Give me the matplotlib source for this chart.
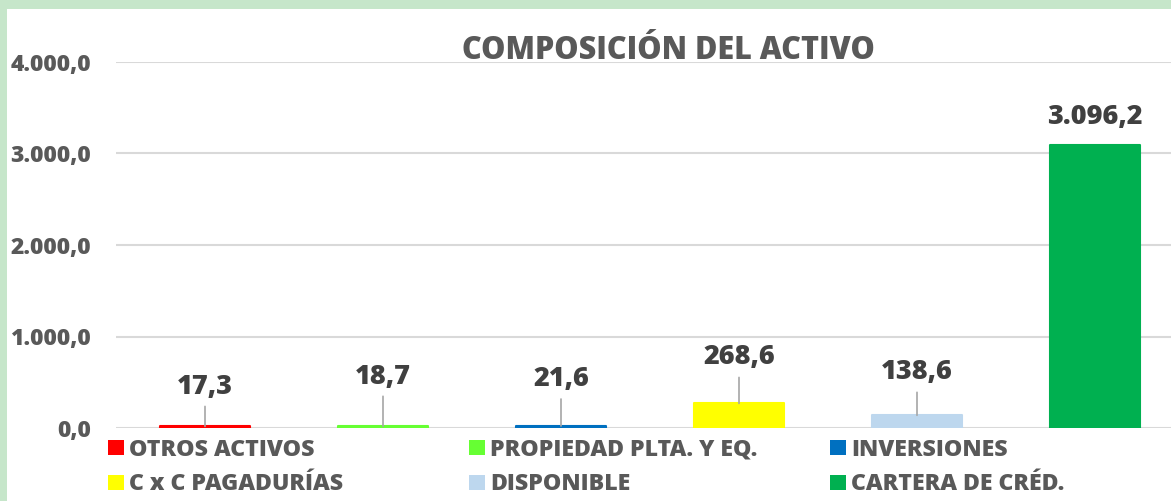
import matplotlib
matplotlib.use('Agg')
import matplotlib.pyplot as plt
from matplotlib.patches import Rectangle
from matplotlib.ticker import FuncFormatter

# chart data
categories = ['OTROS ACTIVOS', 'PROPIEDAD PLTA. Y EQ.', 'INVERSIONES',
              'C x C PAGADURÍAS', 'DISPONIBLE', 'CARTERA DE CRÉD.']
values = [17.3, 18.7, 21.6, 268.6, 138.6, 3096.2]
colors = ['#FF0000', '#66FF33', '#0070C0', '#FFFF00', '#BDD7EE', '#00B050']
y_ticks = [0, 1000, 2000, 3000, 4000]

# label placement above the bar top (pixels): text baseline and leader line top
label_dy = [32, 42, 40, 39, 36, 21]
leader_dy = [20, 30, 27, 26, 23, None]

W, H = 1171, 501
TXT = '#595959'
LBL = '#404040'
WT = 'extra bold'


def fmt_es(v, pos=None):
    s = f"{v:,.1f}"
    return s.replace(',', '_').replace('.', ',').replace('_', '.')


def fx(px):
    return px / W


def fy(py):
    return 1 - py / H


fig = plt.figure(figsize=(W / 100, H / 100), dpi=100)
fig.patch.set_facecolor('#C6E6CA')
fig.add_artist(Rectangle((fx(7), 0), 1 - fx(7), fy(9), facecolor='white',
                         edgecolor='none', zorder=0))

ax = fig.add_axes([fx(116), fy(428), fx(1184) - fx(116), fy(62) - fy(428)])
ax.set_facecolor('none')
x = list(range(len(values)))
ax.bar(x, values, width=0.505, color=colors, edgecolor=colors, linewidth=1.5,
       joinstyle='round', zorder=3)
ax.set_xlim(-0.5, len(values) - 0.5)
ax.set_ylim(0, 4000)
ax.set_yticks(y_ticks)
ax.yaxis.set_major_formatter(FuncFormatter(fmt_es))
ax.set_xticks([])
for s in ax.spines.values():
    s.set_visible(False)
ax.grid(axis='y', color='#D9D9D9', linewidth=1.5, zorder=0)
ax.tick_params(axis='y', length=0, pad=18, labelcolor=TXT)
for t in ax.get_yticklabels():
    t.set_fontfamily('Open Sans')
    t.set_fontweight(WT)
    t.set_fontsize(16.5)

for i, v in enumerate(values):
    ax.annotate(fmt_es(v), xy=(i, v), xytext=(0, label_dy[i]),
                textcoords='offset pixels', ha='center', va='baseline',
                fontsize=19.5, fontweight=WT, family='Open Sans', color=LBL,
                zorder=5)
    if leader_dy[i] is not None:
        ax.annotate('', xy=(i, v), xytext=(0, leader_dy[i]),
                    textcoords='offset pixels',
                    arrowprops=dict(arrowstyle='-', color='#A6A6A6', lw=1.2,
                                    shrinkA=0, shrinkB=0), zorder=4)

fig.text(fx(668), fy(59), 'COMPOSICIÓN DEL ACTIVO', ha='center', va='baseline',
         fontsize=22, fontweight=WT, family='Open Sans', color=TXT)

# legend, three columns, filled row by row
col_x = [108, 469, 830]
row_y = [440, 475]
for k, (name, c) in enumerate(zip(categories, colors)):
    px = col_x[k % 3]
    py = row_y[k // 3]
    fig.add_artist(Rectangle((fx(px), fy(py + 15)), 16 / W, 15 / H,
                             facecolor=c, edgecolor='none'))
    fig.text(fx(px + 21), fy(py + 15.5), name, ha='left', va='baseline',
             fontsize=16.7, fontweight=WT, family='Open Sans', color=TXT)

fig.savefig('out.png', dpi=100, facecolor=fig.get_facecolor())
